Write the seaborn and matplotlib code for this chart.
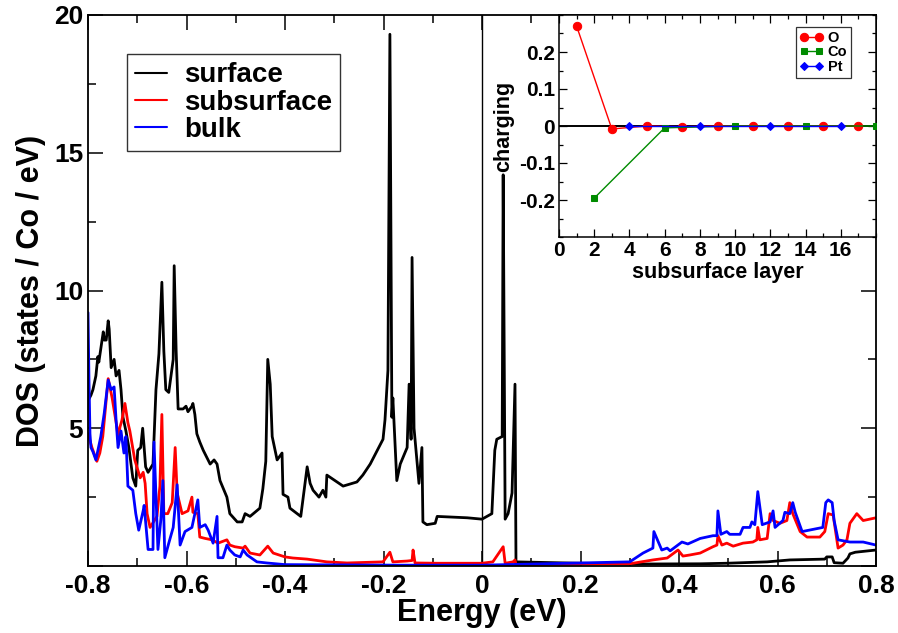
import numpy as np
import pandas as pd
import matplotlib
matplotlib.use("Agg")
import matplotlib.pyplot as plt
import seaborn as sns
from matplotlib.ticker import MultipleLocator, FixedLocator

sns.set_theme(style="ticks")
plt.rcParams['font.family'] = ['Liberation Sans', 'DejaVu Sans']
plt.rcParams['font.weight'] = 'bold'
plt.rcParams['axes.labelweight'] = 'bold'
plt.rcParams['text.color'] = 'black'
plt.rcParams['axes.labelcolor'] = 'black'
plt.rcParams['xtick.color'] = 'black'
plt.rcParams['ytick.color'] = 'black'
plt.rcParams['axes.edgecolor'] = 'black'

# ---------------- main DOS data ----------------
surface_E = [-0.800, -0.794, -0.790, -0.784, -0.780, -0.778, -0.769, -0.767, -0.763, -0.759,
             -0.757, -0.753, -0.747, -0.743, -0.737, -0.733, -0.729, -0.723, -0.717, -0.709,
             -0.703, -0.699, -0.693, -0.689, -0.683, -0.678, -0.668, -0.662, -0.656, -0.650,
             -0.646, -0.642, -0.636, -0.627, -0.625, -0.621, -0.617, -0.607, -0.601, -0.597,
             -0.589, -0.587, -0.583, -0.579, -0.573, -0.566, -0.552, -0.544, -0.538, -0.532,
             -0.518, -0.512, -0.497, -0.487, -0.481, -0.471, -0.451, -0.445, -0.439, -0.435,
             -0.430, -0.426, -0.416, -0.406, -0.404, -0.394, -0.390, -0.368, -0.355, -0.349,
             -0.343, -0.331, -0.323, -0.317, -0.315, -0.282, -0.254, -0.242, -0.227, -0.201,
             -0.197, -0.191, -0.187, -0.183, -0.181, -0.173, -0.166, -0.152, -0.148, -0.144,
             -0.142, -0.138, -0.128, -0.122, -0.120, -0.112, -0.095, -0.091, -0.030, 0.000,
             0.020, 0.026, 0.030, 0.041, 0.043, 0.047, 0.053, 0.061, 0.067, 0.069,
             0.199, 0.300, 0.443, 0.497, 0.579, 0.625, 0.696, 0.700, 0.711, 0.715,
             0.733, 0.743, 0.747, 0.758, 0.800]
surface_D = [6.0, 6.2, 6.4, 6.9, 7.6, 7.4, 8.5, 8.2, 8.2, 8.9,
             8.6, 7.2, 7.5, 6.9, 7.1, 6.4, 5.4, 4.9, 4.3, 3.2,
             2.9, 4.2, 4.3, 5.0, 3.6, 3.4, 3.7, 6.4, 7.7, 10.3,
             7.8, 6.4, 6.3, 7.5, 10.9, 7.8, 5.7, 5.7, 5.8, 5.6,
             5.8, 5.9, 5.5, 4.8, 4.5, 4.2, 3.7, 3.85, 3.7, 3.1,
             2.5, 1.9, 1.6, 1.6, 1.9, 1.8, 2.1, 2.8, 3.8, 7.5,
             6.6, 4.7, 3.85, 4.1, 2.6, 2.5, 2.1, 1.8, 3.6, 3.0,
             2.75, 2.5, 2.75, 2.5, 3.3, 2.9, 3.05, 3.3, 3.7, 4.6,
             5.3, 7.1, 19.3, 5.4, 6.1, 3.1, 3.7, 4.3, 6.6, 4.6,
             11.2, 5.0, 3.0, 4.3, 1.6, 1.5, 1.55, 1.8, 1.75, 1.7,
             1.9, 4.2, 4.6, 4.7, 14.2, 1.7, 1.9, 2.65, 6.6, 0.15,
             0.1, 0.07, 0.08, 0.1, 0.15, 0.22, 0.25, 0.33, 0.33, 0.12,
             0.1, 0.29, 0.44, 0.5, 0.58]

subsurface_E = [-0.800, -0.792, -0.782, -0.776, -0.770, -0.759, -0.751, -0.741, -0.739, -0.735,
                -0.731, -0.725, -0.719, -0.715, -0.705, -0.694, -0.688, -0.684, -0.680, -0.674,
                -0.660, -0.654, -0.650, -0.646, -0.638, -0.629, -0.623, -0.619, -0.609, -0.597,
                -0.589, -0.587, -0.577, -0.573, -0.562, -0.548, -0.536, -0.518, -0.512, -0.502,
                -0.485, -0.481, -0.471, -0.451, -0.435, -0.424, -0.400, -0.384, -0.355, -0.315,
                -0.274, -0.201, -0.187, -0.181, -0.152, -0.142, -0.140, -0.136, -0.091, 0.000,
                0.022, 0.043, 0.047, 0.063, 0.067, 0.069, 0.300, 0.347, 0.376, 0.398,
                0.408, 0.422, 0.443, 0.469, 0.477, 0.479, 0.487, 0.497, 0.510, 0.530,
                0.550, 0.558, 0.560, 0.564, 0.579, 0.585, 0.591, 0.605, 0.619, 0.625,
                0.631, 0.646, 0.660, 0.686, 0.696, 0.703, 0.713, 0.723, 0.733, 0.741,
                0.747, 0.761, 0.774, 0.800]
subsurface_D = [4.8, 4.3, 3.8, 4.1, 4.7, 6.8, 6.1, 5.0, 4.6, 5.05,
                5.3, 5.9, 5.2, 4.9, 3.85, 3.2, 3.4, 3.0, 1.9, 1.4,
                1.8, 2.9, 5.5, 1.9, 1.9, 2.3, 4.3, 2.65, 1.9, 2.0,
                2.5, 1.95, 1.9, 1.05, 1.0, 0.95, 0.83, 0.95, 0.76, 0.7,
                0.65, 0.72, 0.47, 0.4, 0.72, 0.47, 0.33, 0.29, 0.25, 0.15,
                0.11, 0.15, 0.5, 0.15, 0.18, 0.2, 0.58, 0.11, 0.1, 0.1,
                0.15, 0.7, 0.1, 0.15, 0.22, 0.05, 0.08, 0.22, 0.29, 0.58,
                0.36, 0.4, 0.47, 0.7, 0.76, 1.1, 0.76, 0.83, 0.72, 0.83,
                0.87, 0.95, 1.4, 0.95, 1.0, 1.9, 1.65, 1.55, 1.65, 2.3,
                1.9, 1.25, 1.05, 1.05, 1.25, 1.9, 1.85, 0.65, 0.76, 0.95,
                1.55, 1.9, 1.65, 1.75]

bulk_E = [-0.800, -0.798, -0.796, -0.794, -0.790, -0.784, -0.774, -0.767, -0.759, -0.753,
          -0.747, -0.743, -0.739, -0.733, -0.727, -0.723, -0.719, -0.709, -0.703, -0.697,
          -0.688, -0.686, -0.678, -0.668, -0.666, -0.658, -0.652, -0.648, -0.644, -0.636,
          -0.627, -0.619, -0.613, -0.603, -0.589, -0.577, -0.573, -0.562, -0.556, -0.546,
          -0.538, -0.536, -0.526, -0.518, -0.512, -0.502, -0.491, -0.485, -0.477, -0.457,
          -0.437, -0.400, -0.166, 0.000, 0.300, 0.327, 0.347, 0.349, 0.365, 0.376,
          0.382, 0.406, 0.418, 0.443, 0.469, 0.477, 0.479, 0.485, 0.497, 0.503,
          0.524, 0.530, 0.544, 0.548, 0.554, 0.560, 0.569, 0.585, 0.591, 0.595,
          0.611, 0.615, 0.625, 0.631, 0.636, 0.650, 0.692, 0.698, 0.703, 0.711,
          0.715, 0.723, 0.747, 0.774, 0.800]
bulk_D = [9.2, 6.75, 4.8, 4.3, 4.15, 3.85, 4.7, 5.55, 6.75, 6.4,
          6.5, 5.3, 4.3, 4.9, 4.1, 4.7, 2.9, 2.75, 1.9, 1.3,
          2.0, 2.2, 0.6, 0.6, 4.5, 0.6, 1.7, 3.1, 0.3, 0.83,
          1.4, 2.95, 0.76, 1.25, 1.4, 2.4, 1.4, 1.5, 1.3, 0.83,
          1.8, 0.3, 0.3, 0.76, 0.58, 0.4, 0.33, 0.58, 0.4, 0.15,
          0.11, 0.05, 0.03, 0.03, 0.15, 0.47, 0.65, 1.25, 0.58, 0.65,
          0.55, 0.87, 0.8, 1.0, 1.1, 1.1, 2.0, 1.15, 1.25, 1.15,
          1.15, 1.4, 1.4, 1.6, 1.5, 2.7, 1.5, 1.6, 2.0, 1.4,
          1.65, 1.95, 1.9, 2.3, 1.95, 1.25, 1.4, 2.3, 2.4, 2.3,
          1.65, 0.95, 0.87, 0.87, 0.76]

series_names = ["surface", "subsurface", "bulk"]
series_colors = ["#000000", "#ff0000", "#0000ff"]

x_ticks = [-0.8, -0.6, -0.4, -0.2, 0.0, 0.2, 0.4, 0.6, 0.8]
x_ticklabels = ["-0.8", "-0.6", "-0.4", "-0.2", "0", "0.2", "0.4", "0.6", "0.8"]
y_ticks = [0, 5, 10, 15, 20]
y_ticklabels = ["", "5", "10", "15", "20"]

# ---------------- inset data ----------------
O_layer = [1, 3, 5, 7, 9, 11, 13, 15, 17]
O_charge = [0.27, -0.008, 0.0, -0.002, 0.0, 0.0, 0.0, 0.0, 0.0]
Co_layer = [2, 6, 10, 14, 18]
Co_charge = [-0.195, -0.005, 0.0, 0.0, 0.0]
Pt_layer = [4, 8, 12, 16]
Pt_charge = [0.0, 0.0, 0.0, 0.0]
inset_xticks = [0, 2, 4, 6, 8, 10, 12, 14, 16]
inset_yticks = [-0.2, -0.1, 0.0, 0.1, 0.2]
inset_yticklabels = ["-0.2", "-0.1", "0", "0.1", "0.2"]

W, H = 898, 633
fig = plt.figure(figsize=(W / 100, H / 100), dpi=100)
fig.patch.set_facecolor("white")

ax = fig.add_axes([88 / W, 1 - 566 / H, (876 - 88) / W, (566 - 15) / H])
ax.set_facecolor("white")

data = [(surface_E, surface_D), (subsurface_E, subsurface_D), (bulk_E, bulk_D)]
for (E, D), name, col in zip(data, series_names, series_colors):
    df = pd.DataFrame({"E": E, "D": D})
    sns.lineplot(data=df, x="E", y="D", sort=False, estimator=None, color=col,
                 lw=2.0, ax=ax, label=name)

ax.axvline(0, color="black", lw=1.0, zorder=1)
ax.set_xlim(-0.8, 0.8)
ax.set_ylim(0, 20)
ax.set_xticks(x_ticks)
ax.set_xticklabels(x_ticklabels)
ax.set_yticks(y_ticks)
ax.set_yticklabels(y_ticklabels)
ax.xaxis.set_minor_locator(MultipleLocator(0.1))
ax.yaxis.set_minor_locator(MultipleLocator(2.5))
ax.tick_params(which="both", direction="in", top=True, right=True, width=1.1,
               labelsize=19, colors="black")
ax.tick_params(which="major", length=11)
ax.tick_params(which="minor", length=5.5)
ax.tick_params(axis="x", pad=6)
for lab in ax.get_xticklabels() + ax.get_yticklabels():
    lab.set_fontweight("bold")
for sp in ax.spines.values():
    sp.set_linewidth(1.3)
    sp.set_color("black")
ax.set_xlabel("Energy (eV)", fontsize=22, fontweight="bold", labelpad=0)
ax.set_ylabel("DOS (states / Co / eV)", fontsize=22, fontweight="bold", labelpad=6)

leg = ax.legend(loc="upper left", bbox_to_anchor=((127 - 88) / 788, (566 - 54) / 551),
                borderaxespad=0, frameon=True, fancybox=False, edgecolor="black",
                prop={"size": 20, "weight": "bold"}, handlelength=1.15,
                handletextpad=0.6, labelspacing=0.05, borderpad=0.3)
leg.get_frame().set_linewidth(1.0)
for h in leg.get_lines():
    h.set_linewidth(1.5)

# ---------------- inset ----------------
ax2 = fig.add_axes([559 / W, 1 - 237 / H, (876 - 559) / W, (237 - 15) / H])
ax2.set_facecolor("white")
ax2.axhline(0, color="black", lw=1.4, zorder=1)
inset = [(O_layer, O_charge, "O", "#ff0000", "o", 6),
         (Co_layer, Co_charge, "Co", "#008b00", "s", 5),
         (Pt_layer, Pt_charge, "Pt", "#0000ff", "D", 4.5)]
for xs, ys, name, col, mk, ms in inset:
    df = pd.DataFrame({"layer": xs, "charge": ys})
    sns.lineplot(data=df, x="layer", y="charge", sort=False, estimator=None, color=col,
                 lw=1.0, marker=mk, markersize=ms, markeredgecolor=col,
                 markerfacecolor=col, ax=ax2, label=name, zorder=3)
ax2.set_xlim(0, 18)
ax2.set_ylim(-0.3, 0.3)
ax2.set_xticks(inset_xticks)
ax2.set_xticklabels([str(v) for v in inset_xticks])
ax2.xaxis.set_minor_locator(FixedLocator(list(range(1, 19))))
ax2.set_yticks(inset_yticks)
ax2.set_yticklabels(inset_yticklabels)
ax2.yaxis.set_minor_locator(MultipleLocator(0.05))
ax2.tick_params(which="both", direction="in", top=True, right=True, width=0.9,
                labelsize=15, colors="black", pad=3)
ax2.tick_params(which="major", length=6)
ax2.tick_params(which="minor", length=3)
for lab in ax2.get_xticklabels() + ax2.get_yticklabels():
    lab.set_fontweight("bold")
for sp in ax2.spines.values():
    sp.set_linewidth(1.1)
    sp.set_color("black")
ax2.set_xlabel("subsurface layer", fontsize=15.5, fontweight="bold", labelpad=1)
ax2.set_ylabel("charging", fontsize=15.5, fontweight="bold", labelpad=3)

leg2 = ax2.legend(loc="upper right", bbox_to_anchor=((851 - 559) / 317, (237 - 27) / 222),
                  borderaxespad=0, frameon=True, fancybox=False, edgecolor="black",
                  prop={"size": 10.5, "weight": "bold"}, numpoints=2, handlelength=1.6,
                  handletextpad=0.3, labelspacing=0.05, borderpad=0.25)
leg2.get_frame().set_linewidth(0.9)

fig.savefig("out.png", dpi=100, facecolor="white")
